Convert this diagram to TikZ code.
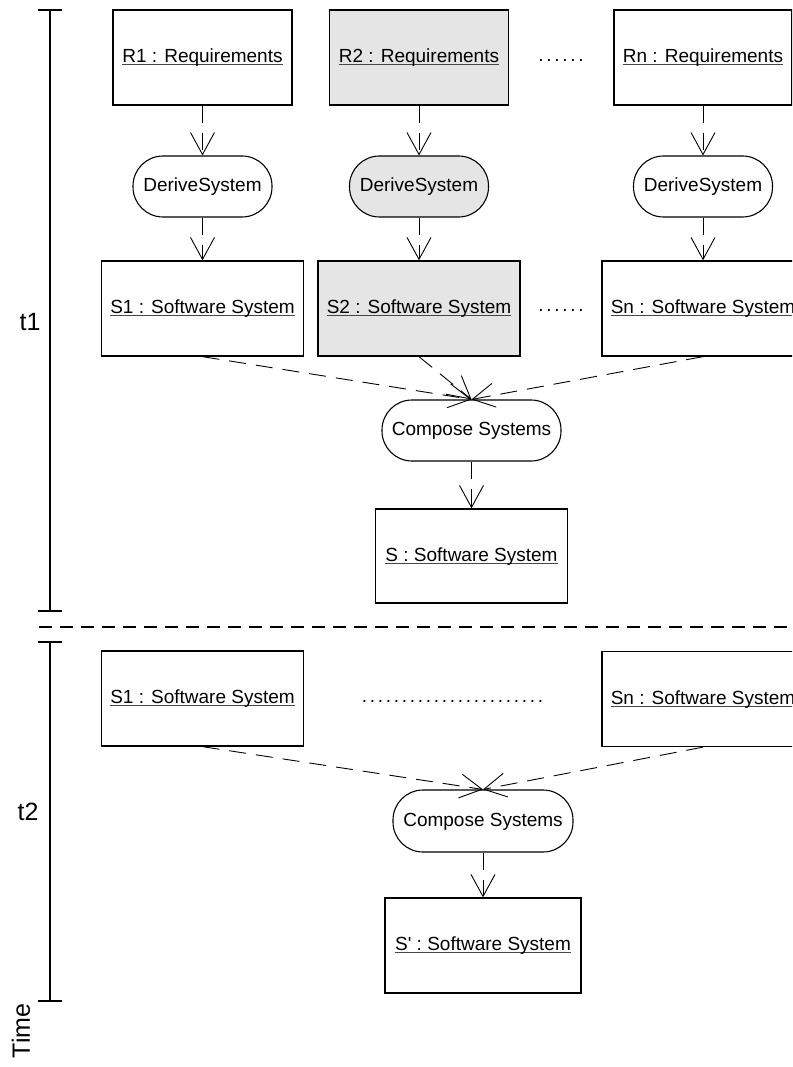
\documentclass[tikz,border=0pt]{standalone}
\usepackage{fontspec}
\setmainfont{Liberation Sans}[Ligatures=TeXOff]
\usetikzlibrary{arrows.meta}

\definecolor{boxgray}{RGB}{229,229,229}
\definecolor{ulgray}{RGB}{70,70,70}

% underlined object name, rule just below the baseline
\newsavebox\ulbox
\newcommand\ulabel[1]{\sbox\ulbox{#1}\rlap{\color{ulgray}\rule[-2.6pt]{\wd\ulbox}{1.1pt}}\usebox\ulbox}
% one evenly spaced dot of an elision row
\newcommand\dotstep{\makebox[8pt]{.}}

\begin{document}
\begin{tikzpicture}[x=1pt,y=-1pt,
  txt/.style={font=\fontsize{19}{23}\selectfont, text height=14pt, text depth=4pt, inner sep=0pt},
  obj/.style={txt, draw, line width=1.3pt, minimum width=#1, minimum height=95pt},
  obj/.default=179pt,
  act/.style={txt, draw, line width=1.1pt, rounded corners=30pt, minimum width=#1, minimum height=61pt},
  act/.default=139pt,
  shaded/.style={fill=boxgray},
  flow/.style={line width=0.9pt, dash pattern=on 17pt off 10pt,
    -{Straight Barb[length=22pt,width=24pt,line width=0.9pt]}},
  bar/.style={line width=2.7pt},
  tlabel/.style={font=\fontsize{25}{30}\selectfont, inner sep=0pt}
]
\clip (0,0) rectangle (792,1067);

% time axis
\draw[bar] (38,10) -- (62,10);
\draw[bar] (50,10) -- (50,611);
\draw[bar] (38,611) -- (62,611);
\draw[bar] (38,642) -- (62,642);
\draw[bar] (50,642) -- (50,1001);
\draw[bar] (38,1001) -- (62,1001);
\draw[line width=2pt, dash pattern=on 13pt off 8pt] (39,627) -- (792,627);

\node[tlabel] (t1) at (30,322) {t1};
\node[tlabel] (t2) at (28,811.5) {t2};
\node[tlabel, rotate=90] (time) at (21,1031) {Time};

% period t1: requirements
\node[obj] (r1) at (202.5,57.5) {\ulabel{R1 : Requirements}};
\node[obj, shaded] (r2) at (419,57.5) {\ulabel{R2 : Requirements}};
\node[obj=178pt] (rn) at (703,57.5) {\ulabel{Rn : Requirements}};
\node[txt] (rdots) at (561,57) {\dotstep\dotstep\dotstep\dotstep\dotstep\dotstep};

% derivation activities
\node[act] (d1) at (202.5,186.5) {DeriveSystem};
\node[act, shaded] (d2) at (419,186.5) {DeriveSystem};
\node[act] (dn) at (703,186.5) {DeriveSystem};

% derived systems
\node[obj=202pt] (s1) at (202.5,308.5) {\ulabel{S1 : Software System}};
\node[obj=202pt, shaded] (s2) at (419,308.5) {\ulabel{S2 : Software System}};
\node[obj=202pt] (sn) at (703,308.5) {\ulabel{Sn : Software System}};
\node[txt] (sdots) at (561,306) {\dotstep\dotstep\dotstep\dotstep\dotstep\dotstep};

\node[act=179pt] (c1) at (471.5,430.5) {Compose Systems};
\node[obj=192pt, minimum height=94pt] (s) at (471.5,556) {\ulabel{S : Software System}};

\draw[flow] (r1.south) -- (d1.north);
\draw[flow] (r2.south) -- (d2.north);
\draw[flow] (rn.south) -- (dn.north);
\draw[flow] (d1.south) -- (s1.north);
\draw[flow] (d2.south) -- (s2.north);
\draw[flow] (dn.south) -- (sn.north);
\draw[flow] (s1.south) -- (c1.north);
\draw[flow] (s2.south) -- (c1.north);
\draw[flow] (sn.south) -- (c1.north);
\draw[flow] (c1.south) -- (s.north);

% period t2: recomposition
\node[obj=202pt] (u1) at (202.5,698.5) {\ulabel{S1 : Software System}};
\node[obj=202pt] (un) at (703,699) {\ulabel{Sn : Software System}};
\node[txt] (udots) at (452.5,697) {\dotstep\dotstep\dotstep\dotstep\dotstep\dotstep\dotstep\dotstep\dotstep\dotstep\dotstep\dotstep\dotstep\dotstep\dotstep\dotstep\dotstep\dotstep\dotstep\dotstep\dotstep\dotstep\dotstep};

\node[act=180pt, minimum height=62pt] (c2) at (483,821) {Compose Systems};
\node[obj=196pt] (sp) at (483,945.5) {\ulabel{S' : Software System}};

\draw[flow] (u1.south) -- (c2.north);
\draw[flow] (un.south) -- (c2.north);
\draw[flow] (c2.south) -- (sp.north);
\end{tikzpicture}
\end{document}
